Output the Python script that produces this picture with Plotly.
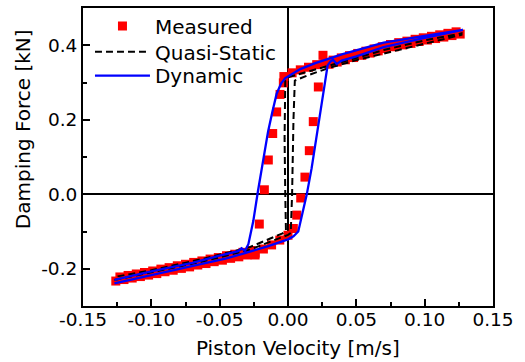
import plotly.graph_objects as go

# ---------------- data ----------------
# Measured: lower band, increasing-velocity path
meas_lowA_v = [-0.126, -0.120, -0.114, -0.108, -0.102, -0.096, -0.090, -0.084, -0.078, -0.072,
               -0.066, -0.060, -0.054, -0.048, -0.042, -0.036, -0.030, -0.024, -0.018, -0.012,
               -0.006, 0.000]
meas_lowA_f = [-0.233, -0.229, -0.225, -0.221, -0.217, -0.213, -0.208, -0.204, -0.199, -0.195,
               -0.190, -0.186, -0.181, -0.177, -0.172, -0.168, -0.163, -0.158, -0.147, -0.136,
               -0.123, -0.110]
# Measured: lower band, decreasing-velocity path
meas_lowB_v = [-0.123, -0.117, -0.111, -0.105, -0.099, -0.093, -0.087, -0.081, -0.075, -0.069,
               -0.063, -0.057, -0.051, -0.045, -0.039, -0.033, -0.027, -0.0285, -0.0241]
meas_lowB_f = [-0.222, -0.218, -0.214, -0.210, -0.206, -0.201, -0.197, -0.192, -0.188, -0.183,
               -0.179, -0.174, -0.170, -0.165, -0.161, -0.156, -0.151, -0.160, -0.163]
# Measured: right (rising) branch
meas_right_v = [0.0039, 0.0064, 0.0093, 0.0124, 0.0156, 0.0185, 0.0222, 0.0256]
meas_right_f = [-0.092, -0.056, -0.010, 0.046, 0.117, 0.195, 0.288, 0.373]
# Measured: upper band, increasing path
meas_upC_v = [0.030, 0.036, 0.042, 0.048, 0.054, 0.060, 0.066, 0.072, 0.078, 0.084,
              0.090, 0.096, 0.102, 0.108, 0.114, 0.120, 0.126]
meas_upC_f = [0.349, 0.355, 0.361, 0.367, 0.373, 0.379, 0.385, 0.391, 0.396, 0.401,
              0.405, 0.410, 0.414, 0.418, 0.422, 0.426, 0.430]
# Measured: upper band, decreasing path
meas_upD_v = [0.123, 0.117, 0.111, 0.105, 0.099, 0.093, 0.087, 0.081, 0.075, 0.069,
              0.063, 0.057, 0.051, 0.045, 0.039, 0.033, 0.027, 0.021, 0.015, 0.009,
              0.003, -0.003]
meas_upD_f = [0.436, 0.432, 0.428, 0.424, 0.420, 0.416, 0.411, 0.407, 0.402, 0.396,
              0.390, 0.384, 0.378, 0.372, 0.366, 0.360, 0.354, 0.348, 0.341, 0.334,
              0.326, 0.316]
# Measured: left (falling) branch
meas_left_v = [-0.0034, -0.0058, -0.0083, -0.0112, -0.0144, -0.0173, -0.0210]
meas_left_f = [0.299, 0.268, 0.221, 0.163, 0.092, 0.012, -0.080]

# Quasi-static model loop
qs_v = [-0.127, -0.100, -0.064, -0.028, -0.010, 0.000, 0.002, 0.003, 0.004, 0.005,
        0.015, 0.030, 0.050, 0.070, 0.100, 0.127,
        0.127, 0.100, 0.070, 0.040, 0.010, 0.000, -0.002, -0.0025, -0.002, -0.0015,
        -0.004, -0.010, -0.028, -0.064, -0.100, -0.127]
qs_f = [-0.230, -0.210, -0.182, -0.149, -0.124, -0.109, -0.104, 0.000, 0.200, 0.305,
        0.320, 0.339, 0.360, 0.378, 0.405, 0.428,
        0.432, 0.413, 0.387, 0.356, 0.326, 0.314, 0.305, 0.150, 0.000, -0.098,
        -0.105, -0.114, -0.142, -0.175, -0.204, -0.222]

# Dynamic model loop
dyn_v = [-0.127, -0.100, -0.070, -0.045, -0.0315, -0.015, 0.000, 0.004, 0.0075, 0.0112,
         0.0137, 0.0173, 0.0210, 0.0247, 0.0283, 0.0290, 0.0310, 0.0330, 0.0356, 0.0393,
         0.050, 0.070, 0.100, 0.128,
         0.100, 0.070, 0.040, 0.020, 0.009, 0.003, -0.002, -0.005, -0.0083, -0.0115,
         -0.0146, -0.0220, -0.0254, -0.0290, -0.0315, -0.0340, -0.0365, -0.050, -0.070,
         -0.100, -0.127]
dyn_f = [-0.239, -0.217, -0.193, -0.172, -0.158, -0.140, -0.121, -0.113, -0.100, -0.045,
         -0.001, 0.070, 0.160, 0.240, 0.330, 0.346, 0.356, 0.361, 0.350, 0.359,
         0.370, 0.395, 0.420, 0.441,
         0.425, 0.407, 0.376, 0.352, 0.336, 0.322, 0.312, 0.298, 0.270, 0.220,
         0.168, 0.008, -0.072, -0.134, -0.152, -0.145, -0.153, -0.165, -0.184,
         -0.207, -0.230]

x_tick_vals = [-0.15, -0.10, -0.05, 0.00, 0.05, 0.10, 0.15]
x_tick_text = ["-0.15", "-0.10", "-0.05", "0.00", "0.05", "0.10", "0.15"]
y_tick_vals = [-0.2, 0.0, 0.2, 0.4]
y_tick_text = ["-0.2", "0.0", "0.2", "0.4"]

# ---------------- figure ----------------
meas_v = meas_lowA_v + meas_lowB_v + meas_right_v + meas_upC_v + meas_upD_v + meas_left_v
meas_f = meas_lowA_f + meas_lowB_f + meas_right_f + meas_upC_f + meas_upD_f + meas_left_f

FONT = "DejaVu Sans"
fig = go.Figure()
fig.add_trace(go.Scatter(x=meas_v, y=meas_f, mode="markers", name="Measured", legend="legend",
                         marker=dict(symbol="square", size=9, color="#ff0000", line=dict(width=0))))
fig.add_trace(go.Scatter(x=qs_v, y=qs_f, mode="lines", name="Quasi-Static", legend="legend2",
                         line=dict(color="black", width=2, dash="7px,4px")))
fig.add_trace(go.Scatter(x=dyn_v, y=dyn_f, mode="lines", name="Dynamic", legend="legend3",
                         line=dict(color="#0000ff", width=2.3)))

axis_common = dict(showline=True, linecolor="black", linewidth=2, mirror=True,
                   showgrid=False, zeroline=True, zerolinecolor="black", zerolinewidth=2,
                   ticks="inside", ticklen=7, tickwidth=2, tickcolor="black",
                   tickfont=dict(family=FONT, size=18.5, color="black"))

fig.update_xaxes(range=[-0.15, 0.15], tickmode="array", tickvals=x_tick_vals, ticktext=x_tick_text,
                 ticklabelstandoff=-4,
                 minor=dict(tickmode="linear", tick0=-0.15, dtick=0.025, ticks="inside",
                            ticklen=4, tickwidth=1.5, tickcolor="black", showgrid=False),
                 **axis_common)
fig.update_yaxes(range=[-0.3, 0.5], tickmode="array", tickvals=y_tick_vals, ticktext=y_tick_text,
                 minor=dict(tickmode="linear", tick0=-0.3, dtick=0.1, ticks="inside",
                            ticklen=4, tickwidth=1.5, tickcolor="black", showgrid=False),
                 **axis_common)

leg_common = dict(x=0.017, xanchor="left", yanchor="middle",
                  font=dict(family=FONT, size=20, color="black"),
                  bgcolor="rgba(0,0,0,0)", itemwidth=55)

fig.update_layout(
    width=525, height=362,
    margin=dict(l=83, r=32, t=6, b=56),
    paper_bgcolor="white", plot_bgcolor="white",
    font=dict(family=FONT, color="black"),
    showlegend=True,
    legend=dict(y=0.94, **leg_common),
    legend2=dict(y=0.853, **leg_common),
    legend3=dict(y=0.773, **leg_common),
    annotations=[
        dict(text="Piston Velocity [m/s]", xref="paper", yref="paper", x=0.524, y=-0.141,
             xanchor="center", yanchor="middle", showarrow=False,
             font=dict(family=FONT, size=20, color="black")),
        dict(text="Damping Force [kN]", xref="paper", yref="paper", x=-0.146, y=0.594,
             xanchor="center", yanchor="middle", showarrow=False, textangle=-90,
             font=dict(family=FONT, size=20, color="black")),
    ],
)

fig.write_html("out.html")
